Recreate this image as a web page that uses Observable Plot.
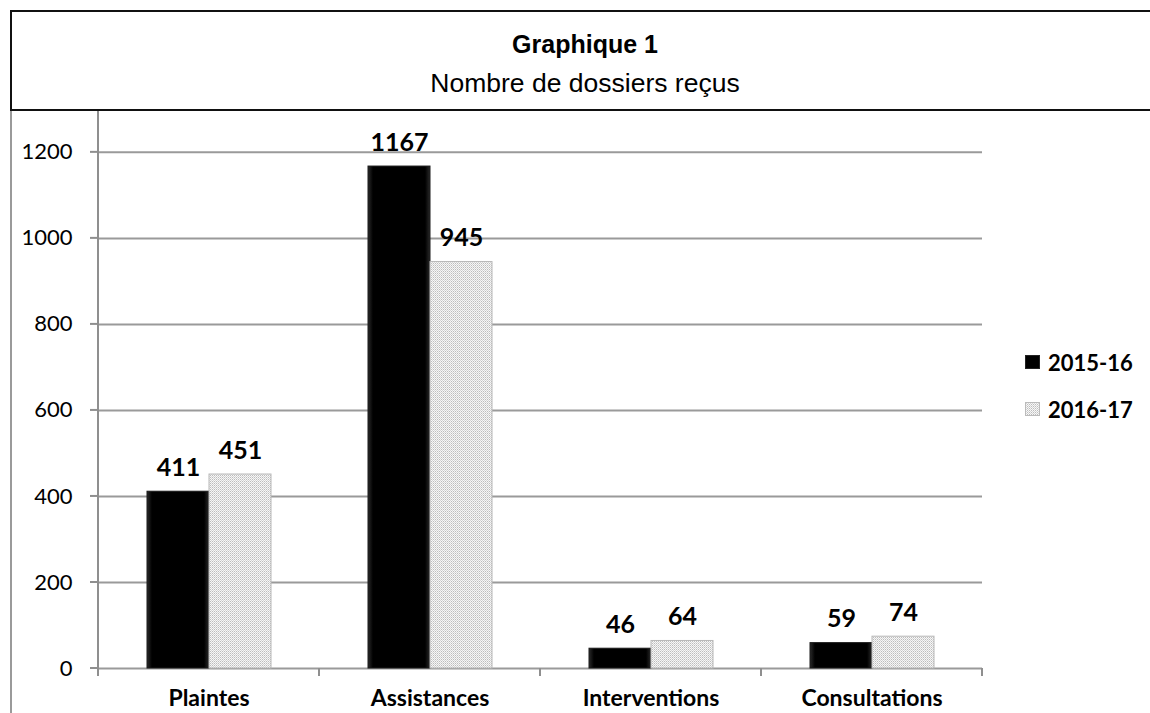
<!DOCTYPE html>
<html>
<head>
<meta charset="utf-8">
<script src="https://cdn.jsdelivr.net/npm/d3@7"></script>
<script src="https://cdn.jsdelivr.net/npm/@observablehq/plot@0.6"></script>
<style>
  body { margin: 0; background: #fff; }
  #wrap { position: relative; width: 1150px; height: 713px; overflow: hidden; background: #fff; }
  #edge { position: absolute; left: 10px; top: 48px; width: 2px; height: 665px; background: #9a9a9a; }
  #titlebox { position: relative; margin: 10px 0 0 10px; width: 1160px; height: 101px; box-sizing: border-box;
    border: 2px solid #111; border-right: none; background: #fff; font-family: "Liberation Sans", Arial, sans-serif; color: #000; }
  #titlebox .t { position: absolute; left: 0; width: 1146px; text-align: center; line-height: 30px; white-space: nowrap; }
  #titlebox .t1 { top: 17px; font-size: 25px; font-weight: bold; }
  #titlebox .t2 { top: 56px; font-size: 26.5px; }
  #chart svg { display: block; }
  .leg { position: absolute; left: 1025px; height: 30px; display: flex; align-items: center; gap: 8px;
    font-family: Lato, sans-serif; font-weight: bold; font-size: 22px; color: #000; }
  .leg svg { display: block; }
</style>
</head>
<body>
<div id="wrap">
  <div id="edge"></div>
  <div id="titlebox">
    <div class="t t1">Graphique 1</div>
    <div class="t t2">Nombre de dossiers reçus</div>
  </div>
  <div id="chart"></div>
  <div id="legend"></div>
</div>
<script>
const categories = ["Plaintes", "Assistances", "Interventions", "Consultations"];
const series = ["2015-16", "2016-17"];
const values2015 = [411, 1167, 46, 59];
const values2016 = [451, 945, 64, 74];
const yTicks = [0, 200, 400, 600, 800, 1000, 1200];

const data = categories.flatMap((c, i) => [
  {category: c, series: series[0], value: values2015[i]},
  {category: c, series: series[1], value: values2016[i]}
]);

const chart = Plot.plot({
  width: 1150,
  height: 602,
  marginLeft: 98,
  marginRight: 168,
  marginTop: 0,
  marginBottom: 45,
  style: {fontFamily: "Lato, sans-serif", fontSize: "22px", color: "#000", background: "transparent", overflow: "visible"},
  fx: {domain: categories, padding: 0, axis: null, label: null},
  x: {domain: series, paddingInner: 0, paddingOuter: 0.754, axis: null, label: null},
  y: {domain: [0, 1295], ticks: yTicks, tickFormat: d => String(d), tickSize: 0, tickPadding: 26, label: null},
  marks: [
    Plot.ruleY(yTicks, {stroke: "#9a9a9a", strokeWidth: 2}),
    Plot.barY(data.filter(d => d.series === series[0]), {fx: "category", x: "series", y: "value", fill: "url(#bevel)", stroke: "#1a1a1a", strokeWidth: 1}),
    Plot.barY(data.filter(d => d.series === series[1]), {fx: "category", x: "series", y: "value", fill: "url(#dots)", stroke: "#b8b8b8", strokeWidth: 1}),
    Plot.text(data, {fx: "category", x: "series", y: "value", text: d => String(d.value), lineAnchor: "bottom", dy: -16, fontWeight: "bold", fontSize: 25}),
    Plot.text(categories, {fx: d => d, text: d => d, frameAnchor: "bottom", lineAnchor: "bottom", dy: 37, fontWeight: "bold", fontSize: 23})
  ]
});

const svg = d3.select(chart);
svg.insert("defs", ":first-child").html(`
  <pattern id="dots" width="2" height="2" patternUnits="userSpaceOnUse">
    <rect width="2" height="2" fill="#f7f7f7"/>
    <rect x="0" y="0" width="1" height="1" fill="#bdbdbd"/>
    <rect x="1" y="1" width="1" height="1" fill="#d6d6d6"/>
  </pattern>
  <linearGradient id="bevel" x1="0" x2="1" y1="0" y2="0">
    <stop offset="0" stop-color="#2a2a2a"/>
    <stop offset="0.08" stop-color="#000"/>
    <stop offset="0.92" stop-color="#000"/>
    <stop offset="1" stop-color="#2a2a2a"/>
  </linearGradient>
`);

// axis line and tick marks, placed through the plot's own scales
const fx = chart.scale("fx");
const y = chart.scale("y");
const y0 = y.apply(0);
const xLeft = fx.apply(categories[0]);
const bw = fx.bandwidth;
const g = svg.append("g").attr("stroke", "#8f8f8f").attr("stroke-width", 2);
g.append("line").attr("x1", xLeft).attr("x2", xLeft).attr("y1", 0).attr("y2", y0 + 8);
yTicks.forEach(t => g.append("line").attr("x1", xLeft - 8).attr("x2", xLeft).attr("y1", y.apply(t)).attr("y2", y.apply(t)));
categories.forEach(c => {
  const xb = fx.apply(c);
  g.append("line").attr("x1", xb).attr("x2", xb).attr("y1", y0).attr("y2", y0 + 8);
});
{
  const xe = fx.apply(categories[categories.length - 1]) + bw;
  g.append("line").attr("x1", xe).attr("x2", xe).attr("y1", y0).attr("y2", y0 + 8);
}

document.getElementById("chart").appendChild(chart);

// legend
const legend = document.getElementById("legend");
const swatchFill = ["#000", "url(#dots)"];
const legendTops = [347, 394];
series.forEach((s, i) => {
  const item = document.createElement("div");
  item.className = "leg";
  item.style.top = legendTops[i] + "px";
  item.innerHTML = `<svg width="15" height="14"><rect x="0.5" y="0.5" width="14" height="13" fill="${swatchFill[i]}" stroke="${i ? '#bbb' : '#222'}"/></svg><span>${s}</span>`;
  legend.appendChild(item);
});
</script>
</body>
</html>
